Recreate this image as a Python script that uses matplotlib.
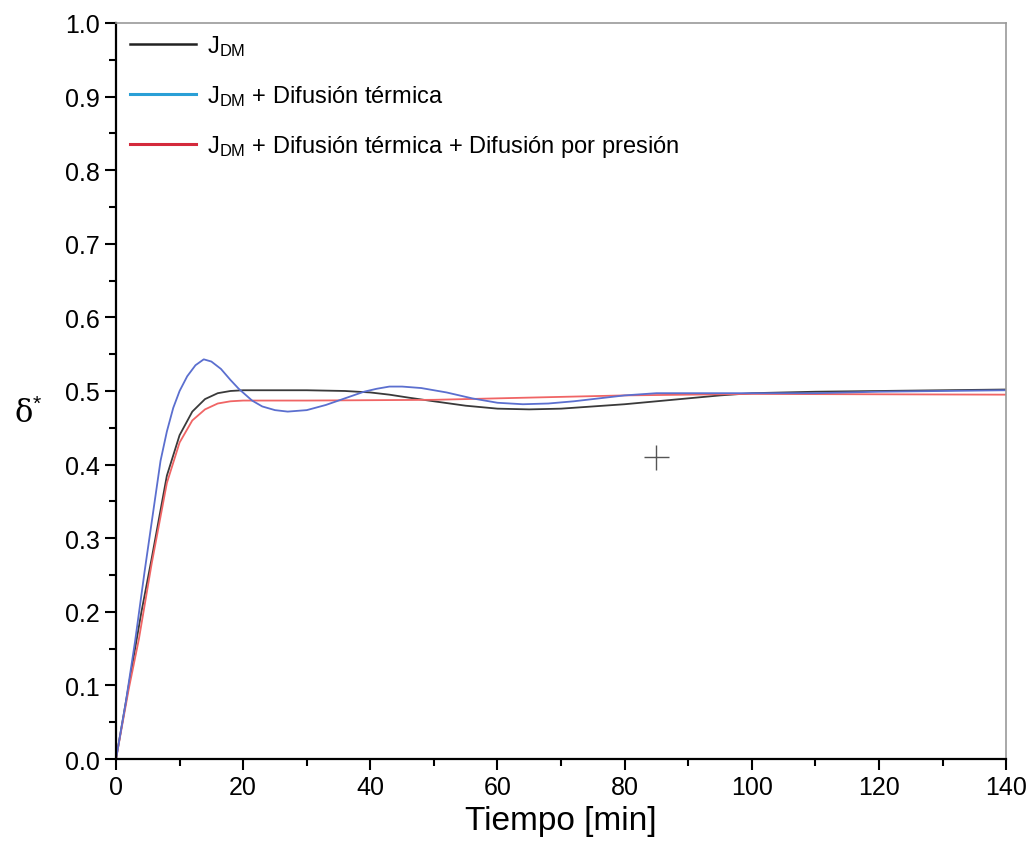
import matplotlib
matplotlib.use("Agg")
import matplotlib.pyplot as plt
from matplotlib.lines import Line2D
from matplotlib.ticker import MultipleLocator

plt.rcParams["font.family"] = ["Liberation Sans", "DejaVu Sans"]
plt.rcParams["mathtext.fontset"] = "custom"
plt.rcParams["mathtext.rm"] = "Liberation Sans"
plt.rcParams["mathtext.it"] = "Liberation Sans"

# --- data ---
t_blue = [0, 1.5, 3, 4.5, 6, 7, 8, 9, 10, 11.2, 12.5, 13.8, 15, 16.5, 18, 19.3,
          21.4, 23, 25, 27, 30, 33, 36, 39, 41, 43, 45, 48, 52, 56, 60, 64, 68,
          72, 76, 80, 85, 90, 100, 110, 120, 130, 140]
y_blue = [0.0, 0.075, 0.16, 0.255, 0.345, 0.405, 0.445, 0.477, 0.5, 0.52, 0.535,
          0.543, 0.54, 0.53, 0.515, 0.503, 0.487, 0.479, 0.474, 0.472, 0.474,
          0.481, 0.49, 0.499, 0.503, 0.506, 0.506, 0.504, 0.498, 0.49, 0.484,
          0.482, 0.483, 0.486, 0.49, 0.494, 0.497, 0.497, 0.497, 0.497, 0.499,
          0.5, 0.501]

t_black = [0, 2, 4, 5.6, 8, 10, 12, 14, 16, 18, 20, 30, 36, 40, 43, 46, 50, 55,
           60, 65, 70, 75, 80, 85, 90, 95, 100, 110, 120, 140]
y_black = [0.0, 0.1, 0.2, 0.272, 0.385, 0.44, 0.472, 0.489, 0.497, 0.5, 0.501,
           0.501, 0.5, 0.498, 0.495, 0.491, 0.486, 0.48, 0.476, 0.475, 0.476,
           0.479, 0.482, 0.486, 0.49, 0.494, 0.497, 0.499, 0.5, 0.502]

t_red = [0, 2, 3.6, 5.6, 8, 10, 12, 14, 16, 18, 20, 30, 50, 60, 70, 80, 100, 140]
y_red = [0.0, 0.095, 0.163, 0.265, 0.375, 0.43, 0.46, 0.475, 0.483, 0.486, 0.487,
         0.487, 0.488, 0.49, 0.492, 0.494, 0.496, 0.495]

cross_t, cross_y = [85], [0.41]

labels = [r"J$_{\mathrm{DM}}$",
          r"J$_{\mathrm{DM}}$ + Difusión térmica",
          r"J$_{\mathrm{DM}}$ + Difusión térmica + Difusión por presión"]

fig = plt.figure(figsize=(10.33, 8.54), dpi=100)
ax = fig.add_axes([0.1123, 0.110, 0.8617, 0.862])

ax.plot(t_black, y_black, color="#3a3a3a", lw=1.3)
ax.plot(t_red, y_red, color="#f06565", lw=1.3)
ax.plot(t_blue, y_blue, color="#5b6fcf", lw=1.3)
ax.plot(cross_t, cross_y, marker="+", ms=18, mew=1.0, color="#555555", ls="none")

ax.set_xlim(0, 140)
ax.set_ylim(0, 1.0)
ax.xaxis.set_major_locator(MultipleLocator(20))
ax.xaxis.set_minor_locator(MultipleLocator(10))
ax.yaxis.set_major_locator(MultipleLocator(0.1))
ax.yaxis.set_minor_locator(MultipleLocator(0.05))
ax.yaxis.set_major_formatter(plt.FuncFormatter(lambda v, p: f"{v:.1f}"))
ax.tick_params(which="major", direction="out", length=8, width=1.5, labelsize=18,
               top=False, right=False)
ax.tick_params(which="minor", direction="out", length=5, width=1.5, top=False, right=False)
for s in ("left", "bottom"):
    ax.spines[s].set_linewidth(1.6)
for s in ("top", "right"):
    ax.spines[s].set_color("#999999")
    ax.spines[s].set_linewidth(1.2)

ax.set_xlabel("Tiempo [min]", fontsize=24, labelpad=4)
fig.text(0.027, 0.515, r"δ$^{*}$", fontsize=22, family="DejaVu Serif", ha="center", va="center")

handles = [Line2D([], [], color="#222222", lw=1.8),
           Line2D([], [], color="#2a9fd6", lw=2.2),
           Line2D([], [], color="#d42a3c", lw=2.2)]
ax.legend(handles, labels, loc="upper left", frameon=False, fontsize=17,
          handlelength=2.8, handletextpad=0.45, labelspacing=1.05,
          borderaxespad=0.2, bbox_to_anchor=(0.0, 1.005))

fig.savefig("out.png", dpi=100)
